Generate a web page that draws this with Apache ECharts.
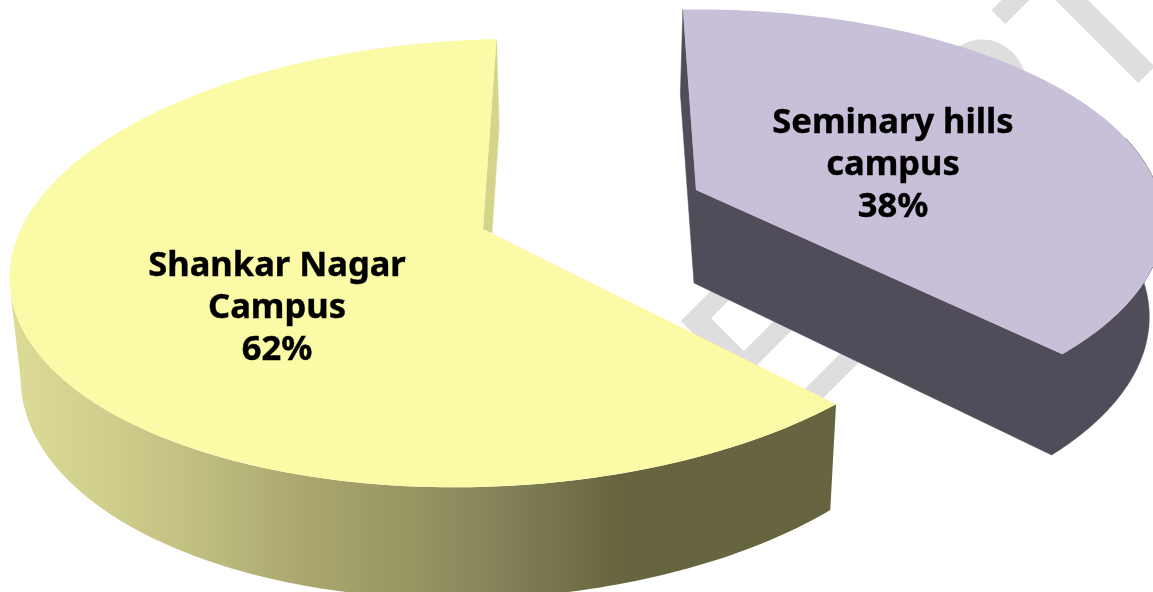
<!DOCTYPE html>
<html><head><meta charset="utf-8">
<style>html,body{margin:0;padding:0;background:#fff}#c{width:1153px;height:592px}</style>
<script src="https://cdn.jsdelivr.net/npm/echarts@6/dist/echarts.min.js"></script>
</head><body><div id="c"></div>
<script>
const names = ['Shankar Nagar\nCampus', 'Seminary hills\ncampus'];
const values = [62, 38];
const topColors = ['#fbfaa6', '#c8bfd9'];
const startDeg = 92;
// perspective disc: [apexX, apexY, radiusX, radiusY, shear, sideTilt]
const topDisc = [[483,229,470,219,-32,0.017],[696,190,462,208,-1,0]];
const baseDisc = [[487,327,459,230.5,-30,0.008],[694,283,450,218,0,0]];
const persp = 0.152;
const labelAt = [[277,308],[893,165]];
const total = values[0] + values[1];
function pt(d, deg) {
  const t = deg * Math.PI / 180, u = Math.cos(t), v = -Math.sin(t), w = 1 - persp * v - d[5] * u;
  return [d[0] + (d[2] * u + d[4] * v) / w, d[1] + d[3] * v / w];
}
function arc(d, a, b) {
  const out = [], n = 120;
  for (let i = 0; i <= n; i++) out.push(pt(d, a + (b - a) * i / n));
  return out;
}
function poly(points, fill) {
  const solid = typeof fill === 'string';
  return {type:'polygon', z2:1, shape:{points}, style:{fill, stroke: solid ? fill : null, lineWidth: solid ? 0.5 : 0}};
}
const yellowWall = {type:'linear', x:0, y:0, x2:1, y2:0, global:false, colorStops:[
  {offset:0,color:'#dcdc97'},{offset:0.11,color:'#d0cf8d'},{offset:0.23,color:'#bfbe80'},{offset:0.35,color:'#aaa86f'},
  {offset:0.47,color:'#9a9862'},{offset:0.59,color:'#85835a'},{offset:0.667,color:'#74734b'},{offset:0.74,color:'#66653f'},{offset:1,color:'#66653f'}]};
function renderItem(params, api) {
  const i = params.dataIndex;
  let a0 = startDeg;
  for (let k = 0; k < i; k++) a0 += values[k] / total * 360;
  const a1 = a0 + values[i] / total * 360;
  const T = topDisc[i], B = baseDisc[i];
  const topArc = arc(T, a0, a1), baseArc = arc(B, a0, a1);
  const topApex = [T[0], T[1]], baseApex = [B[0], B[1]];
  const children = [];
  if (i === 0) {
    const front = arc(T, 196, a1), frontB = arc(B, 193, a1);
    children.push(poly(front.concat(frontB.reverse()), yellowWall));
    children.push(poly([topArc[0], baseArc[0], [492,233], topApex], '#d5d48b'));
  } else {
    const outline = [topArc[topArc.length-1], baseArc[baseArc.length-1], baseApex]
      .concat(arc(B, a0, 360), arc(T, 375, a0), [topApex]);
    children.push(poly(outline, '#504c59'));
  }
  children.push({type:'polygon', z2:2, shape:{points:[topApex].concat(topArc)}, style:{fill:topColors[i]}});
  children.push({type:'text', z2:3, style:{
    text: names[i] + '\n' + api.value(0) + '%', x: labelAt[i][0], y: labelAt[i][1],
    align:'center', verticalAlign:'middle', fill:'#000', stroke:'#000', lineWidth:0.4, lineHeight:42,
    font:'bold 34.5px "Noto Sans"'}});
  return {type:'group', children};
}
const chart = echarts.init(document.getElementById('c'), null, {renderer:'canvas'});
chart.setOption({
  animation:false,
  backgroundColor:'#ffffff',
  graphic:[{type:'text', silent:true, z:-1, x:813, y:477, rotation:Math.PI/4, style:{
    text:'EART', x:0, y:0, align:'left', verticalAlign:'bottom', fill:'#dedede', stroke:'#dedede', lineWidth:2.5, font:'222px "Liberation Sans"'}}],
  series:[{type:'custom', coordinateSystem:'none', renderItem, clip:false,
    data: values.map((v,i)=>({name:names[i], value:[v]}))}]
});
</script></body></html>
